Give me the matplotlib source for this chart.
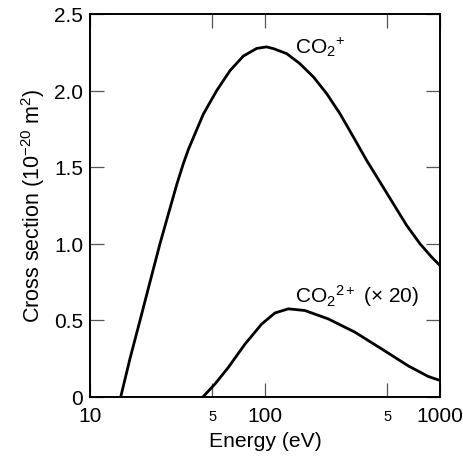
import matplotlib
matplotlib.use("Agg")
import matplotlib.pyplot as plt
from matplotlib.ticker import FixedLocator, FixedFormatter

plt.rcParams['font.family'] = ['Liberation Sans', 'DejaVu Sans']
plt.rcParams['mathtext.fontset'] = 'custom'
plt.rcParams['mathtext.rm'] = 'Liberation Sans'
plt.rcParams['mathtext.it'] = 'Liberation Sans:italic'

# CO2+ cross section (1e-20 m^2)
e_single = [15.0, 16.9, 19.3, 22.0, 25.1, 28.6, 31.3, 34.1, 36.5, 38.9, 44.4, 53.0, 63.1,
            75.2, 89.6, 102, 111.6, 133, 158, 189, 225, 268, 320, 381, 454, 541, 645,
            769, 896, 1000]
s_single = [0.0, 0.245, 0.496, 0.747, 0.998, 1.227, 1.385, 1.52, 1.615, 1.69, 1.845, 2.0,
            2.13, 2.225, 2.275, 2.285, 2.274, 2.241, 2.176, 2.089, 1.98, 1.849, 1.696,
            1.543, 1.402, 1.26, 1.118, 0.998, 0.911, 0.856]

# CO2 2+ cross section (x20)
e_double = [44.4, 51.8, 61.7, 76.9, 95.8, 114, 136, 169, 230, 327, 464, 659, 857, 1000]
s_double = [0.0, 0.082, 0.19, 0.343, 0.474, 0.546, 0.573, 0.562, 0.507, 0.42, 0.311,
            0.20, 0.131, 0.105]

major_x = [10, 100, 1000]
major_x_labels = ['10', '100', '1000']
minor_x = [50, 500]
minor_x_labels = ['5', '5']
y_ticks = [0, 0.5, 1.0, 1.5, 2.0, 2.5]
y_labels = ['0', '0.5', '1.0', '1.5', '2.0', '2.5']

fig = plt.figure(figsize=(4.64, 4.64), dpi=100)
ax = fig.add_axes([90/464, 1 - 397.5/464, 350/464, 382.5/464])

ax.plot(e_single, s_single, color='black', lw=2.0, solid_joinstyle='round')
ax.plot(e_double, s_double, color='black', lw=2.0, solid_joinstyle='round')

ax.set_xscale('log')
ax.set_xlim(10, 1000)
ax.set_ylim(0, 2.5)

ax.xaxis.set_major_locator(FixedLocator(major_x))
ax.xaxis.set_major_formatter(FixedFormatter(major_x_labels))
ax.xaxis.set_minor_locator(FixedLocator(minor_x))
ax.xaxis.set_minor_formatter(FixedFormatter(minor_x_labels))
ax.set_yticks(y_ticks)
ax.set_yticklabels(y_labels)

ax.tick_params(axis='both', which='both', direction='in', top=True, right=True,
               length=10, width=0.9, color='#555555', labelsize=15)
ax.tick_params(axis='x', which='both', pad=7)
ax.tick_params(axis='x', which='minor', labelsize=10.5, pad=9)
ax.tick_params(axis='y', which='major', pad=5)

for sp in ax.spines.values():
    sp.set_linewidth(1.4)

ax.set_xlabel('Energy (eV)', fontsize=15.2, labelpad=4)
ax.set_ylabel('Cross section (10$^{-20}$ m$^{2}$)', fontsize=15.5, labelpad=5)

ax.text(148, 2.29, 'CO$_2$$^{+}$', fontsize=15, ha='left', va='center')
ax.text(148, 0.665, 'CO$_2$$^{2+}$ (× 20)', fontsize=15, ha='left', va='center')

fig.savefig('out.png', dpi=100)
